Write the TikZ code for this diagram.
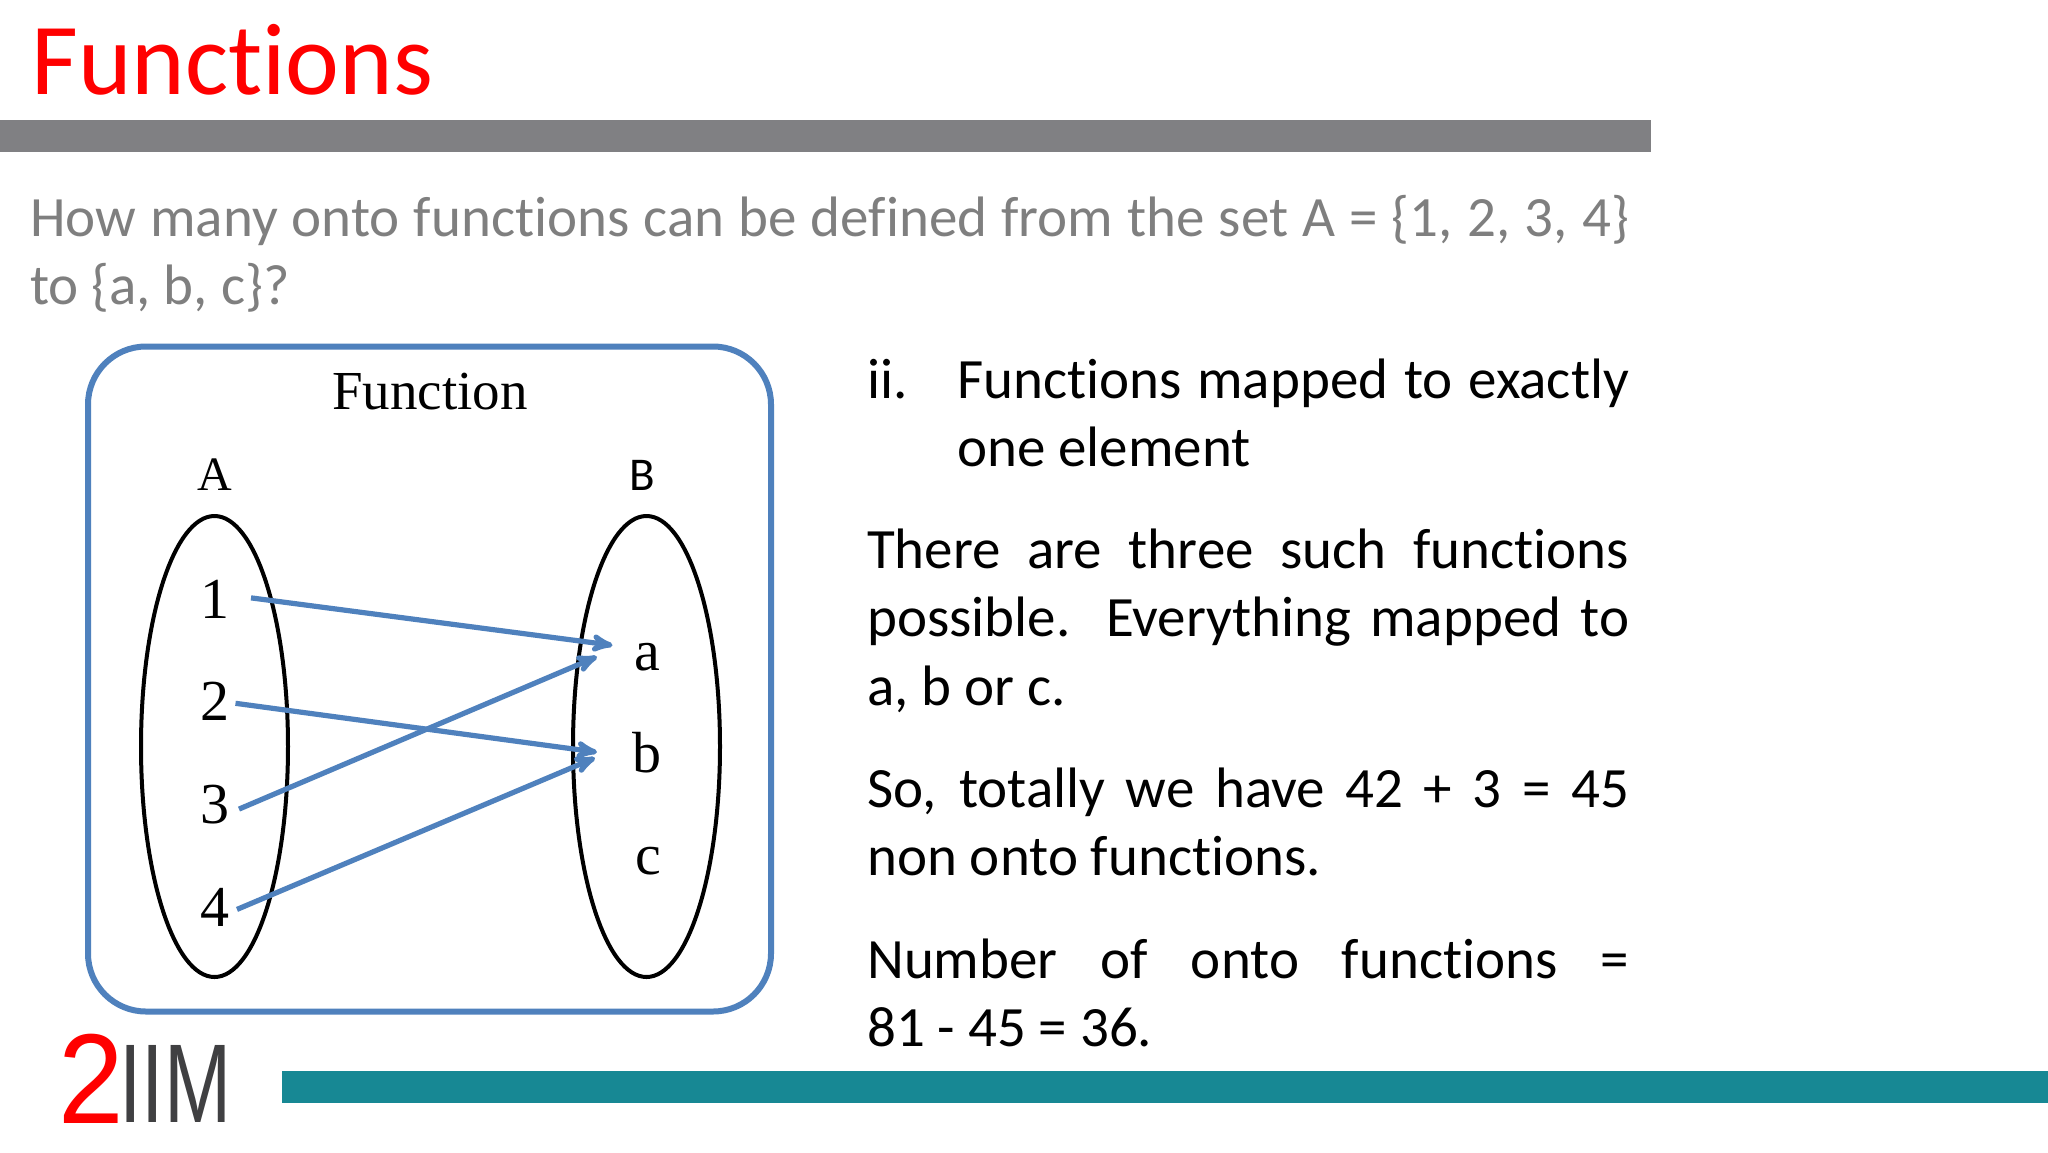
\documentclass[tikz,border=0pt]{standalone}
\usepackage{fontspec}
\setmainfont[Ligatures=NoCommon]{Carlito}
\newfontfamily\serifnum{Liberation Serif}
\newfontfamily\logofont{Liberation Sans}
\usetikzlibrary{arrows}
\usetikzlibrary{shapes.geometric}
\definecolor{barblue}{HTML}{4F81BD}
\definecolor{bargrey}{HTML}{808083}
\definecolor{txtgrey}{HTML}{7F7F7F}
\definecolor{barteal}{HTML}{178894}
\definecolor{logogrey}{HTML}{404042}
\tikzset{
	body_txt/.style = {anchor=base west, inner sep=0pt, align=justify,
		font=\fontsize{57}{68.3}\selectfont},
	ask_txt/.style = {body_txt, text=txtgrey},
	set_oval/.style = {ellipse, draw=black, line width=4pt, minimum width=147pt,
		minimum height=461pt, inner sep=0pt},% the two sets
	elem_txt/.style = {anchor=base, inner sep=0pt, font=\serifnum\fontsize{58}{58}\selectfont},
	map_line/.style = {->, >=stealth', draw=barblue, line width=5.2pt}
}
\begin{document}
\begin{tikzpicture}[x=1pt,y=-1pt]
	\useasboundingbox (0,0) rectangle (2048,1152);
	\fill[white] (0,0) rectangle (2048,1152);
	\node (title) [anchor=base west, inner sep=0pt, text=red,
		font=\fontsize{102}{102}\selectfont] at (31,94) {Functions};
	\fill[bargrey] (0,120) rectangle (1651,152);
	\node (ask) [ask_txt, text width=1599pt] at (30,236)
		{How many onto functions can be defined from the set A = \{1, 2, 3, 4\}\linebreak to \{a, b, c\}?};
	% the box with both sets
	\draw[barblue, line width=6pt, rounded corners=58pt] (88,346.5) rectangle (771,1011.5);
	\node (func) [elem_txt, font=\serifnum\fontsize{55}{55}\selectfont] at (430,409) {Function};
	\node (set_a) [set_oval] at (214.5,746.5) {};
	\node (set_b) [set_oval] at (646.5,746.5) {};
	\node (lab_a) [elem_txt, font=\serifnum\fontsize{48}{48}\selectfont] at (215,490) {A};
	\node (lab_b) [elem_txt, font=\fontsize{47}{47}\selectfont] at (642,490) {B};
	\node (n1) [elem_txt] at (215,618) {1};
	\node (n2) [elem_txt] at (215,720.5) {2};
	\node (n3) [elem_txt] at (215,823) {3};
	\node (n4) [elem_txt] at (215,926) {4};
	\node (e_a) [elem_txt] at (647,670) {a};
	\node (e_b) [elem_txt] at (647,772) {b};
	\node (e_c) [elem_txt] at (648,874) {c};
	\draw[map_line] ([shift={(36,-1)}]n1.center) -- ([shift={(-34.5,-11.4)}]e_a.center);
	\draw[map_line] ([shift={(20.5,2)}]n2.center) -- ([shift={(-50,0)}]e_b.center);
	\draw[map_line] ([shift={(24,5)}]n3.center) -- ([shift={(-50,0)}]e_a.center);
	\draw[map_line] ([shift={(22,2.5)}]n4.center) -- ([shift={(-52,5.7)}]e_b.center);
	% text on the right
	\node (ii_num) [body_txt] at (867,398) {ii.};
	\node (ii_txt) [body_txt, text width=672pt] at (957,398) {Functions mapped to exactly\linebreak one element};
	\node (three) [body_txt, text width=762pt] at (867,568.5)
		{There are three such functions\linebreak possible. Everything mapped to\linebreak a, b or c.};
	\node (total) [body_txt, text width=762pt] at (867,807.5)
		{So, totally we have 42 + 3 = 45\linebreak non onto functions.};
	\node (count) [body_txt, text width=762pt] at (867,978.5)
		{Number of onto functions =\linebreak 81 - 45 = 36.};
	% logo and bottom bar
	\node (logo_2) [anchor=base west, inner sep=0pt, text=red,
		font=\logofont\fontsize{128}{128}\selectfont] at (58,1123) {\scalebox{.92}[1]{2}};
	\node (logo_iim) [anchor=base west, inner sep=0pt, text=logogrey,
		font=\logofont\fontsize{112}{112}\selectfont] at (119,1122) {\scalebox{.72}[1]{IIM}};
	\fill[barteal] (282,1071) rectangle (2048,1103);
\end{tikzpicture}
\end{document}
